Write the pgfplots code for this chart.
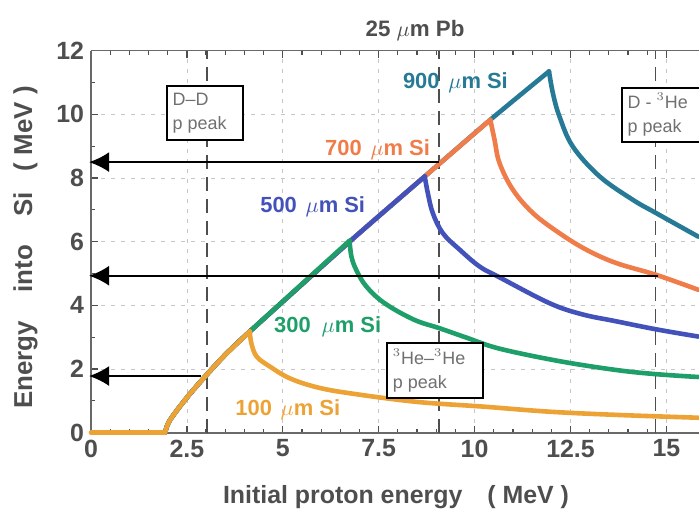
\documentclass[border=0pt]{standalone}
\usepackage{fontspec}
\setmainfont{Liberation Sans}
\usepackage{pgfplots}
\pgfplotsset{compat=1.18}
\usetikzlibrary{arrows.meta}
\definecolor{c100}{RGB}{236,162,52}
\definecolor{c300}{RGB}{30,158,105}
\definecolor{c500}{RGB}{66,82,186}
\definecolor{c700}{RGB}{240,124,74}
\definecolor{c900}{RGB}{38,122,150}
\definecolor{txt}{RGB}{78,78,78}
\definecolor{boxtxt}{RGB}{112,112,112}
\begin{document}
\begin{tikzpicture}
\begin{axis}[
  scale only axis, width=304bp, height=191bp,
  xmin=0, xmax=15.85, ymin=0, ymax=12,
  axis x line*=box, axis y line*=left,
  clip=false,
  xtick={0,2.5,5,7.5,10,12.5,15}, ytick={0,2,4,6,8,10,12},
  minor x tick num=4, minor y tick num=1,
  tick style={draw=txt, line width=0.6bp},
  major tick length=3.5bp, minor tick length=2bp,
  grid=major, major grid style={gray!45, line width=0.4bp, dash pattern=on 2bp off 3bp},
  axis line style={draw=txt!85, line width=0.8bp},
  ticklabel style={font=\fontsize{12.5}{14}\selectfont\bfseries, text=txt},
  /pgf/number format/assume math mode=true,
  every axis plot/.append style={line width=2.3bp, line join=round, line cap=round},
]
\coordinate (SW) at (rel axis cs:0,0);
\coordinate (NE) at (rel axis cs:1,1);
\coordinate (TT) at (rel axis cs:0.533,1);
\coordinate (XL) at (rel axis cs:0.5016,0);
\coordinate (YL) at (rel axis cs:0,0.4848);

% dashed peak lines
\draw[txt, line width=0.75bp, dash pattern=on 7bp off 4bp] (axis cs:3.02,0) -- (axis cs:3.02,12);
\draw[txt, line width=0.75bp, dash pattern=on 7bp off 4bp] (axis cs:9.07,0) -- (axis cs:9.07,12);
\draw[txt, line width=0.75bp, dash pattern=on 7bp off 4bp] (axis cs:14.72,0) -- (axis cs:14.72,12);

% 900 um
\addplot[c900, smooth, tension=0.4] coordinates {
(1.93,0) (1.98,0.2) (2.06,0.40) (2.3,0.8) (2.6,1.25) (3.0,1.8) (3.5,2.45) (4.14,3.18)
(6.74,6.0) (8.70,8.05) (10.41,9.83) (11.94,11.35)};
\addplot[c900, smooth, tension=0.6] coordinates {
(11.94,11.35) (12.04,10.67) (12.21,9.94) (12.56,8.99) (13.26,8.05) (14.12,7.32) (14.73,6.90) (15.83,6.16)};
% 700 um
\addplot[c700, smooth, tension=0.4] coordinates {
(1.93,0) (1.98,0.2) (2.06,0.40) (2.3,0.8) (2.6,1.25) (3.0,1.8) (3.5,2.45) (4.14,3.18)
(6.74,6.0) (8.70,8.05) (10.41,9.83)};
\addplot[c700, smooth, tension=0.6] coordinates {
(10.41,9.83) (10.52,9.20) (10.65,8.47) (11.0,7.63) (11.52,6.90) (12.21,6.27) (12.91,5.75) (13.69,5.33) (14.73,4.96) (15.83,4.49)};
% 500 um
\addplot[c500, smooth, tension=0.4] coordinates {
(1.93,0) (1.98,0.2) (2.06,0.40) (2.3,0.8) (2.6,1.25) (3.0,1.8) (3.5,2.45) (4.14,3.18)
(6.74,6.0) (8.70,8.05)};
\addplot[c500, smooth, tension=0.6] coordinates {
(8.70,8.05) (8.78,7.53) (8.91,6.90) (9.17,6.27) (9.61,5.75) (10.13,5.22) (10.65,4.88) (11.95,4.07) (12.8,3.72) (13.69,3.50) (14.72,3.25) (15.83,3.02)};
% 300 um
\addplot[c300, smooth, tension=0.4] coordinates {
(1.93,0) (1.98,0.2) (2.06,0.40) (2.3,0.8) (2.6,1.25) (3.0,1.8) (3.5,2.45) (4.14,3.18)
(6.74,6.03)};
\addplot[c300, smooth, tension=0.6] coordinates {
(6.74,6.03) (6.79,5.53) (6.92,5.10) (7.18,4.59) (7.65,4.07) (8.42,3.55) (9.09,3.28) (9.78,2.99) (10.65,2.64) (12.2,2.25) (13.69,1.97) (14.72,1.84) (15.83,1.75)};
% 100 um
\addplot[c100] coordinates {(0,0) (1.93,0)};
\addplot[c100, smooth, tension=0.4] coordinates {
(1.93,0) (1.98,0.2) (2.06,0.40) (2.3,0.8) (2.6,1.25) (3.0,1.8) (3.5,2.45) (4.14,3.18)};
\addplot[c100, smooth, tension=0.6] coordinates {
(4.14,3.18) (4.18,2.81) (4.32,2.39) (4.66,2.08) (5.18,1.71) (5.88,1.43) (6.74,1.24) (8.48,0.97) (10.22,0.82) (11.95,0.66) (13.69,0.56) (15.83,0.47)};

% curve labels
\begin{scope}[every node/.style={font=\fontsize{11}{13}\selectfont\bfseries}]
\node[text=c900] at (axis cs:9.5,11.0) {900\hspace{0.4em}$\mu$m Si};
\node[text=c700] at (axis cs:7.47,8.88) {700\hspace{0.4em}$\mu$m Si};
\node[text=c500] at (axis cs:5.78,7.09) {500\hspace{0.4em}$\mu$m Si};
\node[text=c300] at (axis cs:6.17,3.32) {300\hspace{0.5em}$\mu$m Si};
\node[text=c100] at (axis cs:5.13,0.71) {100\hspace{0.4em}$\mu$m Si};
\end{scope}

% arrows
\draw[black, line width=0.9bp, -{Latex[length=10bp,width=10bp]}] (axis cs:9.07,8.5) -- (axis cs:-0.05,8.5);
\draw[black, line width=0.9bp, -{Latex[length=10bp,width=10bp]}] (axis cs:14.77,4.93) -- (axis cs:-0.05,4.93);
\draw[black, line width=0.9bp, -{Latex[length=10bp,width=10bp]}] (axis cs:2.86,1.78) -- (axis cs:-0.05,1.78);

% boxes
\draw[black, line width=1bp, fill=white] (axis cs:1.98,9.20) rectangle (axis cs:3.96,10.90);
\node[anchor=west, align=left, text=boxtxt, font=\fontsize{9}{12}\selectfont, inner sep=0pt] at (axis cs:2.12,10.05) {D--D\\p peak};
\draw[black, line width=1bp, fill=white] (axis cs:7.71,1.08) rectangle (axis cs:10.23,2.81);
\node[anchor=west, align=left, text=boxtxt, font=\fontsize{9}{12}\selectfont, inner sep=0pt] at (axis cs:7.86,1.95) {$^{3}$He--$^{3}$He\\p peak};
\fill[white] (axis cs:13.85,9.14) rectangle (axis cs:15.85,10.84);
\draw[black, line width=1bp] (axis cs:15.85,10.84) -- (axis cs:13.85,10.84) -- (axis cs:13.85,9.14) -- (axis cs:15.85,9.14);
\node[anchor=west, align=left, text=boxtxt, font=\fontsize{9}{12}\selectfont, inner sep=0pt] at (axis cs:13.98,9.99) {D - $^{3}$He\\p peak};
\end{axis}

\node[anchor=base, text=txt, font=\fontsize{11.2}{13}\selectfont\bfseries] at ([yshift=6.85bp]TT) {25 $\mu$m Pb};
\node[anchor=base, text=txt, font=\fontsize{12.5}{14}\selectfont\bfseries] at ([yshift=-35.15bp]XL) {Initial proton energy\hspace{1em}( MeV )};
\node[anchor=base, rotate=90, text=txt, font=\fontsize{13}{15}\selectfont\bfseries] at ([xshift=-29.5bp]YL) {Energy\hspace{1.1em}into\hspace{1.1em}Si\hspace{0.8em}( MeV )};

\pgfresetboundingbox
\useasboundingbox ([xshift=-45.5bp,yshift=-38.65bp]SW) rectangle ([yshift=25.35bp]NE);
\end{tikzpicture}
\end{document}
